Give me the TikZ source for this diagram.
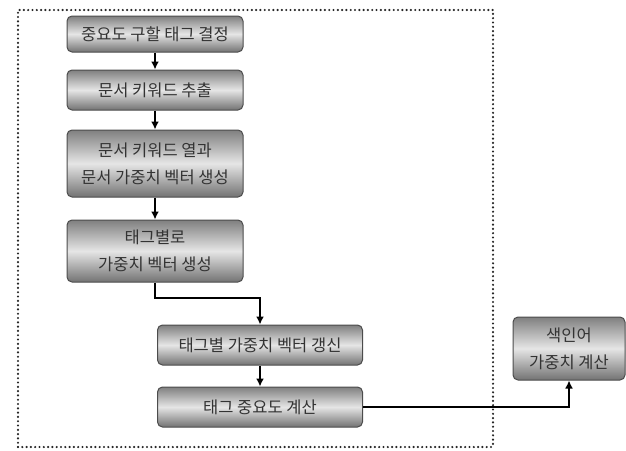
\documentclass[tikz,border=0pt]{standalone}
\usepackage{fontspec}
\newfontfamily\kr{Noto Sans CJK KR}
\usetikzlibrary{arrows.meta}
\tikzset{
  stepbox/.style={draw=black!70, line width=1pt, rounded corners=5pt,
    top color=black!50, bottom color=black!55, middle color=black!10,
    shading=axis, text=black!80, font=\kr\fontsize{16.5}{27}\selectfont,
    align=center, inner sep=0pt},
  flow/.style={draw=black, line width=2.3pt, -{Latex[length=8pt,width=8pt]}},
  frame/.style={draw=black!85, line width=2.4pt, line cap=round, dash pattern=on 0pt off 4.3pt}
}
\begin{document}
\begin{tikzpicture}[x=1pt,y=-1pt]
\useasboundingbox (0,0) rectangle (626,450);
\draw[frame] (18,447) -- (18,10) -- (493,10) -- (493,448);
\draw[frame] (18,447) -- (493,447);
\node[stepbox, minimum width=176pt, minimum height=36pt] (b1) at (155,34) {중요도 구할 태그 결정};
\node[stepbox, minimum width=176pt, minimum height=40pt] (b2) at (155,90) {문서 키워드 추출};
\node[stepbox, minimum width=176pt, minimum height=67pt] (b3) at (155,163.5) {문서 키워드 열과\\문서 가중치 벡터 생성};
\node[stepbox, minimum width=176pt, minimum height=62pt] (b4) at (155,251) {태그별로\\가중치 벡터 생성};
\node[stepbox, minimum width=205pt, minimum height=40pt] (b5) at (260,345) {태그별 가중치 벡터 갱신};
\node[stepbox, minimum width=205pt, minimum height=40pt] (b6) at (260,407) {태그 중요도 계산};
\node[stepbox, minimum width=112pt, minimum height=63pt] (b7) at (569,348.5) {색인어\\가중치 계산};
\coordinate (k) at (155,298);
\draw[flow] (b1) -- (b2);
\draw[flow] (b2) -- (b3);
\draw[flow] (b3) -- (b4);
\draw[flow] (b4.south) -- (k) -| (b5.north);
\draw[flow] (b5) -- (b6);
\draw[flow] (b6.east) -| (b7.south);
\end{tikzpicture}
\end{document}
